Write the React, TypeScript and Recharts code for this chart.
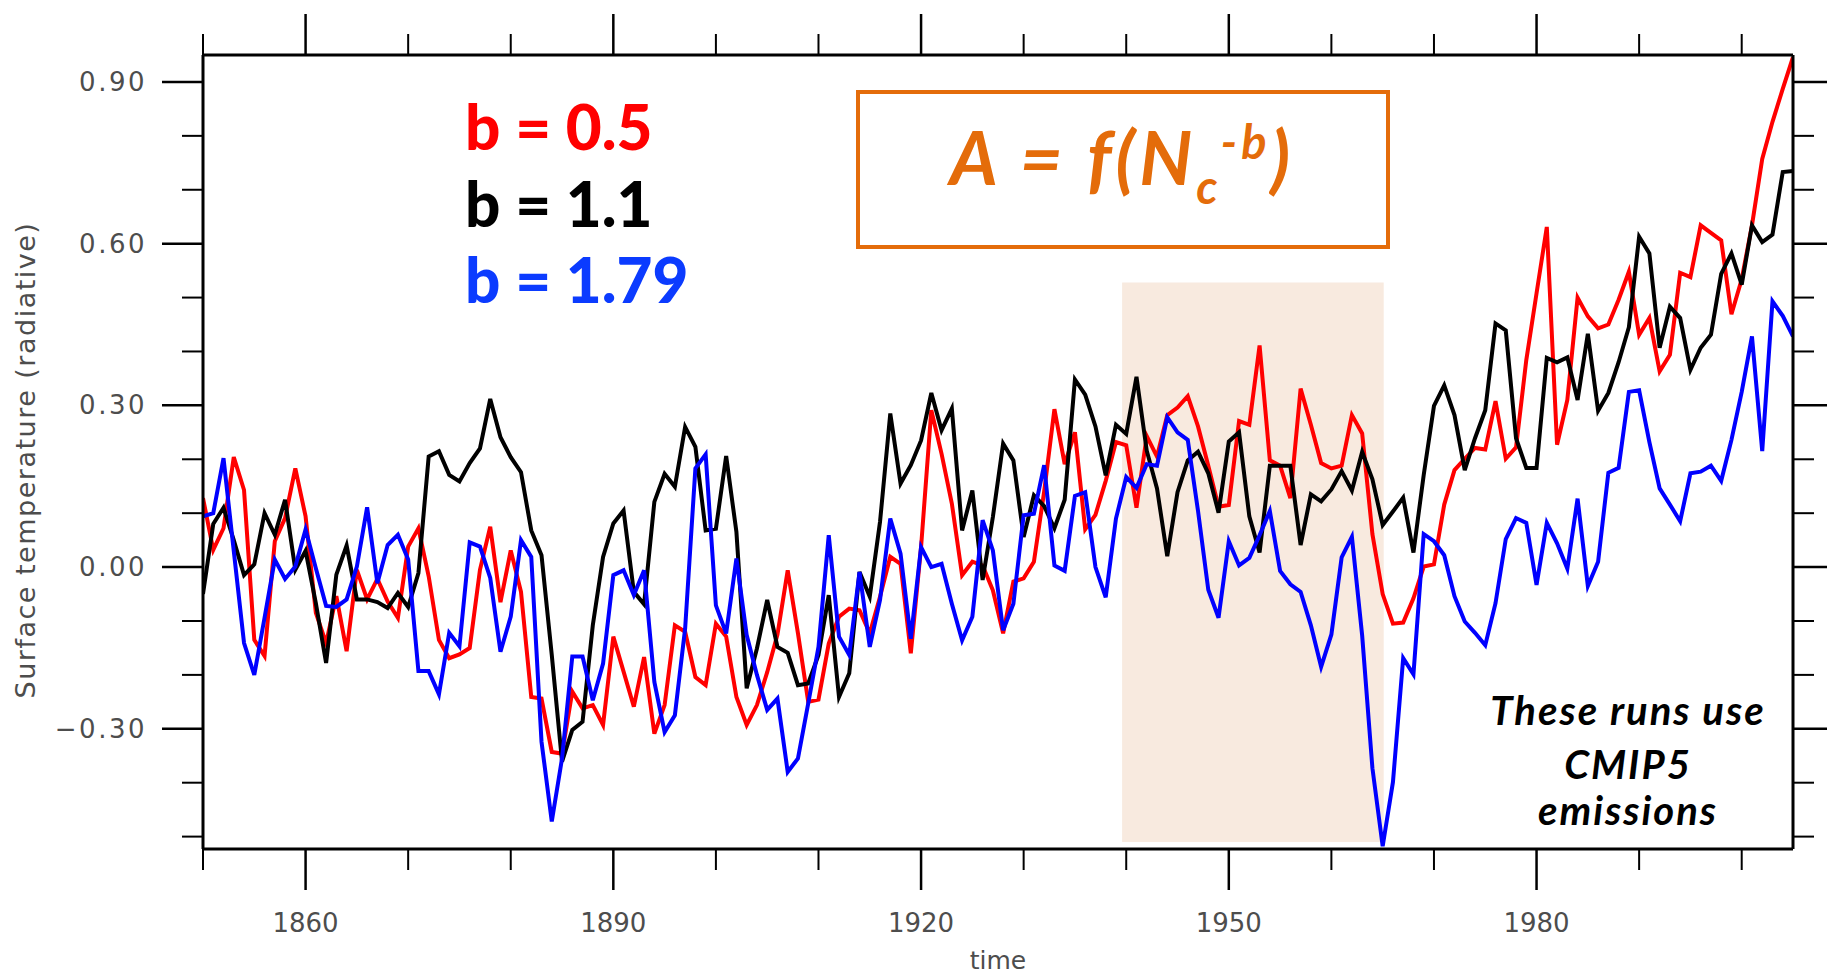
import { LineChart, Line, XAxis, YAxis, ReferenceArea } from 'recharts';

// annual surface temperature anomaly (radiative), 1850-2005
const START_YEAR = 1850;

const RED_B05 = [
  0.128, 0.032, 0.072, 0.204, 0.143, -0.135, -0.165, 0.048, 0.091, 0.183,
  0.094, -0.085, -0.141, -0.054, -0.156, -0.005, -0.06, -0.022, -0.064, -0.094,
  0.038, 0.072, -0.017, -0.135, -0.169, -0.162, -0.15, -0.005, 0.075, -0.065,
  0.031, -0.046, -0.241, -0.244, -0.343, -0.346, -0.231, -0.262, -0.256, -0.293,
  -0.129, -0.194, -0.259, -0.167, -0.309, -0.256, -0.108, -0.12, -0.204, -0.219,
  -0.105, -0.129, -0.241, -0.293, -0.256, -0.195, -0.125, -0.006, -0.123, -0.25,
  -0.246, -0.142, -0.092, -0.077, -0.08, -0.123, -0.055, 0.019, 0.006, -0.16,
  0.037, 0.291, 0.21, 0.118, -0.015, 0.01, 0.003, -0.043, -0.123, -0.027,
  -0.021, 0.01, 0.14, 0.293, 0.191, 0.25, 0.07, 0.097, 0.16, 0.232,
  0.226, 0.11, 0.243, 0.205, 0.282, 0.296, 0.317, 0.261, 0.188, 0.112,
  0.115, 0.271, 0.264, 0.411, 0.198, 0.188, 0.128, 0.331, 0.264, 0.193,
  0.183, 0.188, 0.282, 0.248, 0.061, -0.05, -0.105, -0.103, -0.058, 0.001,
  0.005, 0.116, 0.18, 0.201, 0.221, 0.218, 0.308, 0.201, 0.222, 0.384,
  0.508, 0.631, 0.227, 0.31, 0.5, 0.465, 0.443, 0.45, 0.496, 0.548,
  0.431, 0.462, 0.363, 0.394, 0.546, 0.538, 0.634, 0.62, 0.606, 0.469,
  0.534, 0.634, 0.757, 0.826, 0.887, 0.946,
];

const BLACK_B11 = [
  -0.05, 0.08, 0.11, 0.05, -0.015, 0.005, 0.1, 0.06, 0.125, -0.005,
  0.03, -0.067, -0.178, -0.014, 0.04, -0.06, -0.06, -0.065, -0.076, -0.048,
  -0.074, -0.011, 0.205, 0.215, 0.171, 0.159, 0.193, 0.22, 0.312, 0.241,
  0.204, 0.176, 0.068, 0.022, -0.163, -0.361, -0.302, -0.287, -0.108, 0.019,
  0.081, 0.105, -0.046, -0.069, 0.121, 0.173, 0.149, 0.26, 0.223, 0.068,
  0.071, 0.206, 0.065, -0.225, -0.151, -0.061, -0.148, -0.159, -0.219, -0.216,
  -0.163, -0.052, -0.241, -0.197, -0.009, -0.055, 0.084, 0.285, 0.155, 0.189,
  0.235, 0.323, 0.254, 0.294, 0.068, 0.142, -0.024, 0.093, 0.229, 0.198,
  0.056, 0.133, 0.113, 0.072, 0.125, 0.348, 0.32, 0.261, 0.17, 0.264,
  0.247, 0.353, 0.216, 0.146, 0.02, 0.139, 0.198, 0.214, 0.174, 0.101,
  0.233, 0.25, 0.094, 0.027, 0.188, 0.188, 0.188, 0.041, 0.135, 0.122,
  0.144, 0.178, 0.142, 0.214, 0.163, 0.078, 0.103, 0.129, 0.027, 0.171,
  0.299, 0.337, 0.282, 0.18, 0.239, 0.291, 0.452, 0.439, 0.239, 0.184,
  0.184, 0.388, 0.38, 0.389, 0.31, 0.433, 0.29, 0.323, 0.38, 0.445,
  0.613, 0.582, 0.407, 0.483, 0.462, 0.366, 0.407, 0.431, 0.544, 0.582,
  0.524, 0.634, 0.603, 0.617, 0.733, 0.735,
];

const BLUE_B179 = [
  0.094, 0.1, 0.202, 0.03, -0.141, -0.2, -0.094, 0.014, -0.022, 0.001,
  0.07, -0.002, -0.072, -0.074, -0.06, 0.001, 0.111, -0.03, 0.041, 0.06,
  0.014, -0.193, -0.193, -0.236, -0.122, -0.147, 0.046, 0.038, -0.02, -0.157,
  -0.092, 0.05, 0.019, -0.324, -0.472, -0.355, -0.166, -0.166, -0.247, -0.179,
  -0.015, -0.006, -0.052, -0.006, -0.213, -0.306, -0.275, -0.114, 0.183, 0.209,
  -0.071, -0.123, 0.016, -0.126, -0.2, -0.265, -0.244, -0.38, -0.355, -0.253,
  -0.148, 0.059, -0.129, -0.163, -0.009, -0.148, -0.061, 0.09, 0.025, -0.133,
  0.037, 0, 0.006, -0.068, -0.136, -0.092, 0.087, 0.031, -0.117, -0.068,
  0.096, 0.099, 0.189, 0.003, -0.007, 0.132, 0.139, 0, -0.056, 0.09,
  0.167, 0.147, 0.191, 0.188, 0.278, 0.25, 0.236, 0.104, -0.042, -0.094,
  0.048, 0.003, 0.017, 0.059, 0.104, -0.007, -0.032, -0.046, -0.108, -0.185,
  -0.125, 0.018, 0.056, -0.127, -0.373, -0.518, -0.399, -0.169, -0.199, 0.061,
  0.048, 0.022, -0.054, -0.101, -0.122, -0.145, -0.067, 0.052, 0.091, 0.082,
  -0.033, 0.082, 0.044, -0.003, 0.127, -0.035, 0.01, 0.175, 0.184, 0.325,
  0.328, 0.232, 0.146, 0.116, 0.085, 0.174, 0.177, 0.188, 0.16, 0.236,
  0.325, 0.428, 0.215, 0.493, 0.466, 0.428,
];

const YEARS = RED_B05.map((_, i) => START_YEAR + i);

const X_DOMAIN = [1850, 2005];
const X_TICKS = [1850, 1860, 1870, 1880, 1890, 1900, 1910, 1920, 1930, 1940, 1950, 1960, 1970, 1980, 1990, 2000];
const X_LABELS = [1860, 1890, 1920, 1950, 1980];
const Y_DOMAIN = [-0.523, 0.95];
const Y_TICKS = [-0.5, -0.4, -0.3, -0.2, -0.1, 0, 0.1, 0.2, 0.3, 0.4, 0.5, 0.6, 0.7, 0.8, 0.9];
const Y_LABELS = [-0.3, 0, 0.3, 0.6, 0.9];

// shaded period
const SHADE_X = [1939.6, 1965.1];
const SHADE_Y = [-0.51, 0.528];

const data = YEARS.map((year, i) => ({
  year,
  red: RED_B05[i],
  black: BLACK_B11[i],
  blue: BLUE_B179[i],
}));

const TICK = 40;
const MAJOR = 41;
const MINOR = 21;
const LABEL_FONT = '"DejaVu Sans", sans-serif';
const GREY = '#4d4d4d';
const ORANGE = '#e46c0a';
const frame = { stroke: '#000', strokeWidth: 3 };

const isMajorX = (v: number) => X_LABELS.includes(v);
const isMajorY = (v: number) => Y_LABELS.some(l => Math.abs(l - v) < 1e-6);
const fmtY = (v: number) => (v < -1e-9 ? '\u2212' : '') + Math.abs(v).toFixed(2);

const BottomTick = ({ x, y, payload }: any) => {
  const axis = y - TICK;
  const major = isMajorX(payload.value);
  return (
    <g>
      <line x1={x} x2={x} y1={axis} y2={axis + (major ? MAJOR : MINOR)} stroke="#000" strokeWidth={major ? 2.5 : 2} />
      {major && (
        <text x={x} y={axis + 83} textAnchor="middle" fontSize={26} fill={GREY} fontFamily={LABEL_FONT}>
          {payload.value}
        </text>
      )}
    </g>
  );
};

const TopTick = ({ x, y, payload }: any) => {
  const axis = y + TICK;
  const major = isMajorX(payload.value);
  return <line x1={x} x2={x} y1={axis} y2={axis - (major ? MAJOR : MINOR)} stroke="#000" strokeWidth={major ? 2.5 : 2} />;
};

const LeftTick = ({ x, y, payload }: any) => {
  const axis = x + TICK;
  const major = isMajorY(payload.value);
  return (
    <g>
      <line x1={axis} x2={axis - (major ? MAJOR : MINOR)} y1={y} y2={y} stroke="#000" strokeWidth={major ? 2.5 : 2} />
      {major && (
        <text
          x={axis - 56}
          y={y + 9}
          textAnchor="end"
          fontSize={26}
          letterSpacing={2.5}
          fill={GREY}
          fontFamily={LABEL_FONT}
        >
          {fmtY(payload.value)}
        </text>
      )}
    </g>
  );
};

const RightTick = ({ x, y, payload }: any) => {
  const axis = x - TICK;
  const major = isMajorY(payload.value);
  return <line x1={axis} x2={axis + (major ? MAJOR : MINOR)} y1={y} y2={y} stroke="#000" strokeWidth={major ? 2.5 : 2} />;
};

const LEGEND_FONT = 'Lato, "Open Sans", sans-serif';

export default function App() {
  return (
    <div style={{ position: 'absolute', left: 0, top: 0, width: 1827, height: 975, background: '#fff' }}>
      <LineChart width={1827} height={975} data={data} margin={{ top: 0, right: 0, bottom: 0, left: 0 }}>
        <XAxis
          dataKey="year"
          type="number"
          domain={X_DOMAIN}
          ticks={X_TICKS}
          interval={0}
          allowDataOverflow
          height={126}
          tickSize={TICK}
          tickMargin={0}
          tickLine={false}
          axisLine={frame}
          tick={<BottomTick />}
        />
        <XAxis
          xAxisId="top"
          orientation="top"
          dataKey="year"
          type="number"
          domain={X_DOMAIN}
          ticks={X_TICKS}
          interval={0}
          allowDataOverflow
          height={55}
          tickSize={TICK}
          tickMargin={0}
          tickLine={false}
          axisLine={frame}
          tick={<TopTick />}
        />
        <YAxis
          type="number"
          domain={Y_DOMAIN}
          ticks={Y_TICKS}
          interval={0}
          allowDataOverflow
          width={203}
          tickSize={TICK}
          tickMargin={0}
          tickLine={false}
          axisLine={frame}
          tick={<LeftTick />}
        />
        <YAxis
          yAxisId="right"
          orientation="right"
          type="number"
          domain={Y_DOMAIN}
          ticks={Y_TICKS}
          interval={0}
          allowDataOverflow
          width={34}
          tickSize={TICK}
          tickMargin={0}
          tickLine={false}
          axisLine={frame}
          tick={<RightTick />}
        />
        <ReferenceArea
          x1={SHADE_X[0]}
          x2={SHADE_X[1]}
          y1={SHADE_Y[0]}
          y2={SHADE_Y[1]}
          fill="#f8eadf"
          fillOpacity={1}
          stroke="none"
        />
        <Line dataKey="red" stroke="#ff0000" strokeWidth={4} dot={false} isAnimationActive={false} />
        <Line dataKey="black" stroke="#000000" strokeWidth={4} dot={false} isAnimationActive={false} />
        <Line dataKey="blue" stroke="#0000ff" strokeWidth={4} dot={false} isAnimationActive={false} />
      </LineChart>

      <svg width={1827} height={975} style={{ position: 'absolute', left: 0, top: 0, pointerEvents: 'none' }}>
        <text
          transform="translate(35,460) rotate(-90)"
          textAnchor="middle"
          fontSize={27}
          letterSpacing={1.5}
          fill={GREY}
          fontFamily={LABEL_FONT}
        >
          Surface temperature (radiative)
        </text>
        <text x={998} y={969} textAnchor="middle" fontSize={25} fill={GREY} fontFamily={LABEL_FONT}>
          time
        </text>

        <g fontFamily={LEGEND_FONT} fontWeight={900} fontSize={62}>
          <text x={465} y={150} fill="#ff0000">b = 0.5</text>
          <text x={465} y={227} fill="#000000">b = 1.1</text>
          <text x={465} y={303} fill="#0b3bff">b = 1.79</text>
        </g>

        <rect x={858} y={92} width={530} height={155} fill="none" stroke={ORANGE} strokeWidth={4} />
        <text
          x={1122}
          y={185}
          textAnchor="middle"
          fontFamily={LEGEND_FONT}
          fontWeight={700}
          fontStyle="italic"
          fontSize={74}
          letterSpacing={4}
          fill={ORANGE}
        >
          <tspan>A = f(N</tspan>
          <tspan fontSize={47} dy={19}>c</tspan>
          <tspan fontSize={47} dy={-45}>-b</tspan>
          <tspan dy={26}>)</tspan>
        </text>

        <g
          fontFamily={LEGEND_FONT}
          fontWeight={700}
          fontStyle="italic"
          fontSize={40}
          letterSpacing={2}
          fill="#000"
          textAnchor="middle"
        >
          <text x={1628} y={725}>These runs use</text>
          <text x={1628} y={779}>CMIP5</text>
          <text x={1628} y={825}>emissions</text>
        </g>
      </svg>
    </div>
  );
}
